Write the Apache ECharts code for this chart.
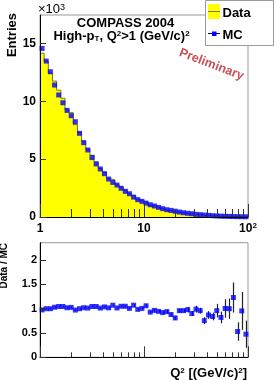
<!DOCTYPE html>
<html><head><meta charset="utf-8">
<script src="https://cdn.jsdelivr.net/npm/echarts@6/dist/echarts.min.js"></script>
<style>html,body{margin:0;padding:0;background:#fff}#c{width:274px;height:380px}</style>
</head><body><div id="c"></div>
<script>
// Q^2 bin edges (GeV/c)^2, 25 log bins per decade
const binEdges = [1.000,1.096,1.202,1.318,1.445,1.585,1.738,1.905,2.089,2.291,2.512,2.754,3.020,3.311,3.631,3.981,4.365,4.786,5.248,5.754,6.310,6.918,7.586,8.318,9.120,10.00,10.96,12.02,13.18,14.45,15.85,17.38,19.05,20.89,22.91,25.12,27.54,30.20,33.11,36.31,39.81,43.65,47.86,52.48,57.54,63.10,69.18,75.86,83.18,91.20,100.0];
// entries in units of 10^3
const mcEntries = [14.56,13.47,12.55,11.40,10.54,9.87,9.21,8.75,8.23,7.23,6.42,5.79,5.13,4.58,4.15,3.74,3.28,2.99,2.76,2.48,2.22,2.01,1.72,1.50,1.35,1.20,1.06,0.95,0.83,0.72,0.63,0.57,0.50,0.43,0.37,0.32,0.28,0.23,0.20,0.17,0.14,0.115,0.09,0.075,0.06,0.05,0.038,0.03,0.025,0.02];
const dataEntries = [14.15,13.45,12.43,11.74,10.96,10.26,9.30,9.01,7.98,7.30,6.55,5.85,5.34,4.76,4.19,3.85,3.31,3.20,2.82,2.60,2.33,2.03,1.84,1.49,1.36,1.27,0.99,0.92,0.78,0.66,0.59,0.50,0.41,0.41,0.36,0.31,0.25,0.23,0.19,0.13,0.12,0.097,0.086,0.062,0.061,0.05,0.047,0.016,0.024,0.0096];
const ratioValues = [0.975,1.00,1.00,1.03,1.045,1.045,1.02,1.027,0.972,1.00,1.02,1.013,1.045,1.045,1.013,1.037,1.017,1.072,1.015,1.05,1.05,1.006,1.072,0.986,1.006,1.06,0.93,0.965,0.945,0.92,0.94,0.88,0.81,0.96,0.96,0.98,0.90,0.99,0.96,0.755,0.87,0.84,0.96,0.82,1.005,1.00,1.23,0.53,0.955,0.475];
const ratioErrors = [0.015,0.015,0.015,0.015,0.015,0.015,0.015,0.015,0.015,0.015,0.015,0.015,0.015,0.015,0.015,0.015,0.015,0.015,0.015,0.015,0.025,0.025,0.025,0.025,0.025,0.025,0.025,0.025,0.025,0.025,0.035,0.035,0.035,0.035,0.035,0.055,0.05,0.07,0.06,0.07,0.08,0.08,0.14,0.12,0.19,0.21,0.31,0.19,0.39,0.28];
const topYTicks = [0,5,10,15];
const ratioYTicks = [0,0.5,1,1.5,2];
const xMinorTicks = [2,3,4,5,6,7,8,9,20,30,40,50,60,70,80,90];
const xMajorInner = [10];

const FONT = "'Liberation Sans', Arial, Helvetica, sans-serif";
const centers = binEdges.slice(0, -1).map((e, i) => Math.sqrt(e * binEdges[i + 1]));
const stepPts = dataEntries.map((v, i) => [binEdges[i], v]).concat([[binEdges[binEdges.length - 1], dataEntries[dataEntries.length - 1]]]);
const mcPts = mcEntries.map((v, i) => [centers[i], v]);
const ratioPts = ratioValues.map((v, i) => [centers[i], v]);
const errPts = ratioValues.map((v, i) => [centers[i], v - ratioErrors[i], v + ratioErrors[i]]);

function tickSeries(xi, vals, len) {
  return {
    type: 'custom', xAxisIndex: xi, yAxisIndex: xi, z: 20, silent: true,
    data: vals.map(v => [v, 0]),
    renderItem: (params, api) => {
      const p = api.coord([api.value(0), 0]);
      const x = Math.round(p[0]) + 0.5;
      return { type: 'line', shape: { x1: x, y1: p[1], x2: x, y2: p[1] - len }, style: { stroke: '#333', lineWidth: 1 } };
    }
  };
}

const labelBase = { fontFamily: FONT, fontWeight: 'bold', color: '#000' };
const chart = echarts.init(document.getElementById('c'), null, { renderer: 'canvas' });
chart.setOption({
  animation: false,
  backgroundColor: '#fff',
  grid: [
    { left: 40, top: 15, width: 208, height: 202, show: true, borderColor: '#999', borderWidth: 1, backgroundColor: 'transparent' },
    { left: 40, top: 242.7, width: 208, height: 114.6, show: true, borderColor: '#999', borderWidth: 1, backgroundColor: 'transparent' }
  ],
  xAxis: [
    { type: 'log', logBase: 10, min: 1, max: 100, interval: 1, gridIndex: 0, z: 10,
      axisLine: { show: true, lineStyle: { color: '#000', width: 1 } },
      axisTick: { show: true, inside: true, length: 13, lineStyle: { color: '#333' } },
      splitLine: { show: false },
      axisLabel: Object.assign({}, labelBase, { fontSize: 12, margin: 5, lineHeight: 14,
        formatter: v => { const r = Math.round(v); return r === 100 ? '10{s|2}' : String(r); },
        rich: { s: { fontSize: 8, fontWeight: 'bold', fontFamily: FONT, verticalAlign: 'top', lineHeight: 8, color: '#000' } } }) },
    { type: 'log', logBase: 10, min: 1, max: 100, interval: 1, gridIndex: 1, z: 10,
      axisLine: { show: true, lineStyle: { color: '#000', width: 1 } },
      axisTick: { show: true, inside: true, length: 11, lineStyle: { color: '#333' } },
      splitLine: { show: false }, axisLabel: { show: false } }
  ],
  yAxis: [
    { type: 'value', min: 0, max: 17.45, interval: 5, gridIndex: 0, z: 10,
      axisLine: { show: true, lineStyle: { color: '#000', width: 1 } },
      axisTick: { show: true, inside: true, length: 6, lineStyle: { color: '#333' } },
      splitLine: { show: false },
      axisLabel: Object.assign({}, labelBase, { fontSize: 12, margin: 4, showMaxLabel: false,
        formatter: v => topYTicks.includes(v) ? String(v) : '' }) },
    { type: 'value', min: 0, max: 2.358, interval: 0.5, gridIndex: 1, z: 10,
      axisLine: { show: true, lineStyle: { color: '#000', width: 1 } },
      axisTick: { show: true, inside: true, length: 6, lineStyle: { color: '#333' } },
      splitLine: { show: false },
      axisLabel: Object.assign({}, labelBase, { fontSize: 11, margin: 3, showMaxLabel: false,
        formatter: v => ratioYTicks.includes(v) ? String(v) : '' }) }
  ],
  series: [
    { type: 'line', xAxisIndex: 0, yAxisIndex: 0, data: stepPts, step: 'end', symbol: 'none', z: 2,
      lineStyle: { color: '#7d7d00', width: 1 }, areaStyle: { color: '#ffff00', opacity: 1 } },
    { type: 'scatter', xAxisIndex: 0, yAxisIndex: 0, data: mcPts, symbol: 'rect', symbolSize: 5, z: 4,
      itemStyle: { color: '#0000ff' } },
    tickSeries(0, xMinorTicks, 8),
    { type: 'custom', xAxisIndex: 1, yAxisIndex: 1, z: 3, silent: true, data: errPts,
      renderItem: (params, api) => {
        const lo = api.coord([api.value(0), api.value(1)]);
        const hi = api.coord([api.value(0), api.value(2)]);
        const x = Math.round(lo[0]) + 0.5;
        return { type: 'line', shape: { x1: x, y1: lo[1], x2: x, y2: hi[1] }, style: { stroke: '#222', lineWidth: 1.2 } };
      } },
    { type: 'scatter', xAxisIndex: 1, yAxisIndex: 1, data: ratioPts, symbol: 'rect', symbolSize: 5, z: 4,
      itemStyle: { color: '#0000ff' } },
    tickSeries(1, xMinorTicks, 5)
  ],
  graphic: [
    { type: 'text', x: 38, y: 9.5, z: 50, style: { text: '×10{s|3}', font: '13px ' + FONT, fill: '#000', verticalAlign: 'middle', align: 'left',
      rich: { s: { fontSize: 9, fontFamily: FONT, verticalAlign: 'top', lineHeight: 8, fill: '#000' } } } },
    { type: 'text', x: 12.5, y: 13, rotation: Math.PI / 2, z: 50, style: { text: 'Entries', font: 'bold 13px ' + FONT, fill: '#000', align: 'right', verticalAlign: 'middle' } },
    { type: 'text', x: 4.5, y: 243, rotation: Math.PI / 2, z: 50, style: { text: 'Data / MC', font: 'bold 10px ' + FONT, fill: '#000', align: 'right', verticalAlign: 'middle' } },
    { type: 'text', x: 125.5, y: 23, z: 50, style: { text: 'COMPASS 2004', font: 'bold 13px ' + FONT, fill: '#000', align: 'center', verticalAlign: 'middle' } },
    { type: 'text', x: 121.5, y: 36.5, z: 50, style: { text: 'High-p{b|T}, Q{t|2}>1 (GeV/c){t|2}', font: 'bold 13px ' + FONT, fill: '#000', align: 'center', verticalAlign: 'middle',
      rich: { b: { fontSize: 8, fontWeight: 'bold', fontFamily: FONT, verticalAlign: 'bottom', lineHeight: 6, fill: '#000' },
              t: { fontSize: 8, fontWeight: 'bold', fontFamily: FONT, verticalAlign: 'top', lineHeight: 8, fill: '#000' } } } },
    { type: 'text', x: 211.5, y: 64.5, rotation: -21 * Math.PI / 180, z: 50, style: { text: 'Preliminary', font: 'bold 12.5px ' + FONT, fill: '#c8505a', align: 'center', verticalAlign: 'middle' } },
    { type: 'rect', z: 60, shape: { x: 205.5, y: 0.5, width: 68, height: 45 }, style: { fill: '#fff', stroke: '#999', lineWidth: 1 } },
    { type: 'rect', z: 61, shape: { x: 208, y: 4, width: 12, height: 15 }, style: { fill: '#ffff00' } },
    { type: 'line', z: 62, shape: { x1: 208, y1: 11.5, x2: 220, y2: 11.5 }, style: { stroke: '#7d7d00', lineWidth: 1 } },
    { type: 'line', z: 62, shape: { x1: 208, y1: 33.5, x2: 220, y2: 33.5 }, style: { stroke: '#000088', lineWidth: 1 } },
    { type: 'rect', z: 63, shape: { x: 212, y: 31.5, width: 4.5, height: 4.5 }, style: { fill: '#0000ff' } },
    { type: 'text', x: 222.5, y: 13, z: 63, style: { text: 'Data', font: 'bold 13px ' + FONT, fill: '#000', align: 'left', verticalAlign: 'middle' } },
    { type: 'text', x: 222.5, y: 35, z: 63, style: { text: 'MC', font: 'bold 13px ' + FONT, fill: '#000', align: 'left', verticalAlign: 'middle' } },
    { type: 'text', x: 247, y: 373, z: 50, style: { text: 'Q{t|2} [(GeV/c){t|2}]', font: 'bold 13px ' + FONT, fill: '#000', align: 'right', verticalAlign: 'middle',
      rich: { t: { fontSize: 8, fontWeight: 'bold', fontFamily: FONT, verticalAlign: 'top', lineHeight: 8, fill: '#000' } } } }
  ]
});
</script></body></html>
